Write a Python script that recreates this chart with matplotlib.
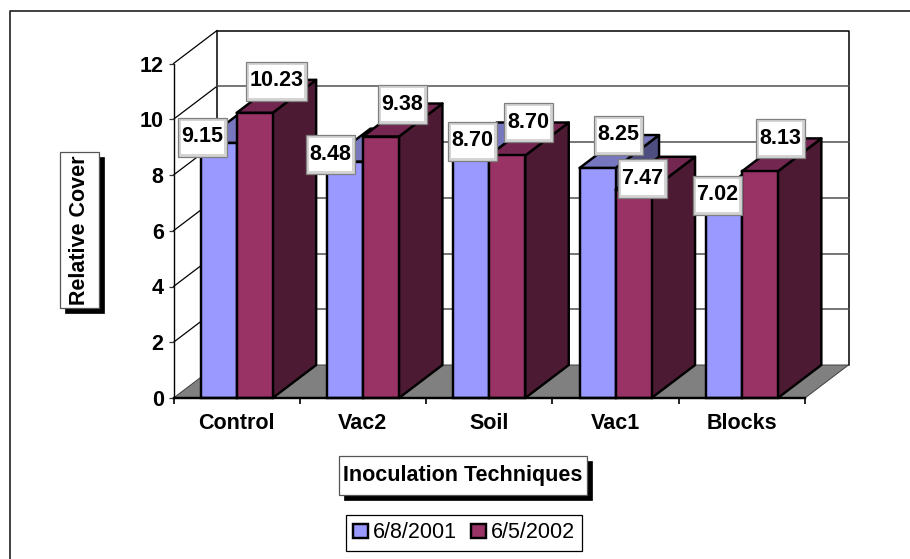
#!/usr/bin/python

import matplotlib
matplotlib.use('Agg')
import matplotlib.pyplot as plt
from matplotlib.patches import Polygon, Rectangle

plt.rcParams['font.family'] = ['Liberation Sans', 'DejaVu Sans']

categories = ['Control', 'Vac2', 'Soil', 'Vac1', 'Blocks']
cover_2001 = [9.15, 8.48, 8.70, 8.25, 7.02]
cover_2002 = [10.23, 9.38, 8.70, 7.47, 8.13]
series_names = ['6/8/2001', '6/5/2002']
y_ticks = [0, 2, 4, 6, 8, 10, 12]

# hand placed label boxes, pixel centres (same order as the values)
label_pos_2001 = [(202, 137), (330, 154), (472, 141), (618.5, 135), (717, 195)]
label_pos_2002 = [(276.5, 81), (402, 104), (528, 122), (642.5, 178.7), (780.5, 138.5)]

W, H = 910, 559
X0, X1 = 173.5, 805.0
Y0, Y12 = 398.0, 63.5
FS = 15.5
EDGE = 1.75

# depth of the fake 3d box in data units
DX = 43.5 / ((X1 - X0) / 5)
DY = 33.0 / ((Y0 - Y12) / 12)
BAR_W = 36.0 / ((X1 - X0) / 5)

fig = plt.figure(figsize=(W / 100, H / 100), dpi=100, facecolor='white')
ax = fig.add_axes([X0 / W, (H - Y0) / H, (X1 - X0) / W, (Y0 - Y12) / H])
ax.set_xlim(0, 5)
ax.set_ylim(0, 12)
ax.patch.set_visible(False)
for s in ax.spines.values():
    s.set_visible(False)

n = len(categories)

# walls and floor
ax.add_patch(Polygon([(0, 0), (n, 0), (n + DX, DY), (DX, DY)], closed=True, fc='#808080',
                     ec='#404040', lw=0.7, clip_on=False, zorder=1))
ax.plot([DX, DX, n + DX, n + DX], [DY, 12 + DY, 12 + DY, DY], color='black', lw=1.1,
        clip_on=False, zorder=1.5)
ax.plot([0, 0], [0, 12], color='black', lw=1.0, clip_on=False, zorder=1.5)
for t in y_ticks[1:]:
    ax.plot([0, DX], [t, t + DY], color='black', lw=0.9, clip_on=False, zorder=1.5)
    if t < 12:
        ax.plot([DX, n + DX], [t + DY, t + DY], color='#505050', lw=1.1, clip_on=False, zorder=1.5)


def draw_bar(left, value, front, top, side, z):
    # side and top first, front face through the normal bar call
    right = left + BAR_W
    ax.add_patch(Polygon([(right, 0), (right + DX, DY), (right + DX, value + DY), (right, value)],
                         closed=True, fc=side, ec='black', lw=EDGE, joinstyle='round',
                         clip_on=False, zorder=z))
    ax.add_patch(Polygon([(left, value), (right, value), (right + DX, value + DY), (left + DX, value + DY)],
                         closed=True, fc=top, ec='black', lw=EDGE, joinstyle='round',
                         clip_on=False, zorder=z))
    return ax.bar(left, value, BAR_W, align='edge', color=front, edgecolor='black', lw=EDGE,
                  clip_on=False, zorder=z)


handles = [None, None]
for i in range(n):
    handles[0] = draw_bar(i + 0.5 - BAR_W, cover_2001[i], '#9999FF', '#7777BF', '#4D4D80', 2 + i * 0.1)
    handles[1] = draw_bar(i + 0.5, cover_2002[i], '#993366', '#732650', '#4D1A33', 2.05 + i * 0.1)

ax.plot([0, n], [0, 0], color='black', lw=EDGE, clip_on=False, zorder=3)

# ticks, labels sit on minor ticks between the major ones
ax.set_yticks(y_ticks)
ax.set_xticks(range(n + 1))
ax.set_xticklabels([])
ax.set_xticks([i + 0.5 for i in range(n)], minor=True)
ax.set_xticklabels(categories, minor=True, fontsize=FS, fontweight='bold')
ax.tick_params(axis='x', which='major', length=4.5, width=1.2, color='black')
ax.tick_params(axis='x', which='minor', length=0, pad=11)
ax.tick_params(axis='y', length=3.6, width=0.9, color='#333333', pad=3.5, labelsize=FS)
for lab in ax.get_yticklabels():
    lab.set_fontweight('bold')

leg = ax.legend([handles[0], handles[1]], series_names, loc='center', ncol=2,
                bbox_to_anchor=(464 / W, (H - 533) / H), bbox_transform=fig.transFigure,
                fontsize=FS, frameon=True, fancybox=False, edgecolor='black', framealpha=1,
                handlelength=0.68, handleheight=0.68, handletextpad=0.2, columnspacing=0.7,
                borderpad=0.33, borderaxespad=0)
leg.get_frame().set_linewidth(0.9)

# overlay in pixel coordinates for the frame and text boxes
ov = fig.add_axes([0, 0, 1, 1])
ov.set_xlim(0, W)
ov.set_ylim(H, 0)
ov.axis('off')
ov.patch.set_visible(False)

ov.plot([9.5, 9.5, W], [H, 11, 11], color='#202020', lw=1.2, zorder=1)


def shadow_box(x0, y0, x1, y1, text, rotation=0):
    ov.add_patch(Rectangle((x0 + 5, y0 + 5), x1 - x0, y1 - y0, fc='black', ec='black', lw=0.5, zorder=2))
    ov.add_patch(Rectangle((x0, y0), x1 - x0, y1 - y0, fc='white', ec='#555555', lw=0.9, zorder=3))
    ov.text((x0 + x1) / 2, (y0 + y1) / 2, text, ha='center', va='center', rotation=rotation,
            fontsize=FS, fontweight='bold', zorder=4)


shadow_box(60, 152, 99, 308, 'Relative Cover', rotation=90)
shadow_box(339, 456, 587, 495, 'Inoculation Techniques')

# value labels, grey speckled edge in the original so two nested rects
for values, places in [(cover_2001, label_pos_2001), (cover_2002, label_pos_2002)]:
    for v, (cx, cy) in zip(values, places):
        bw, bh = 49, 39
        if v >= 10:
            bw = 61
        ov.add_patch(Rectangle((cx - bw / 2, cy - bh / 2), bw, bh, fc='#D4D4D4', ec='#808080', lw=0.9, zorder=5))
        ov.add_patch(Rectangle((cx - bw / 2 + 3, cy - bh / 2 + 3), bw - 6, bh - 6, fc='white', ec='none', zorder=6))
        ov.text(cx, cy, '%.2f' % v, ha='center', va='center', fontsize=FS, fontweight='bold', zorder=7)

fig.savefig('out.png', dpi=100, facecolor='white')
